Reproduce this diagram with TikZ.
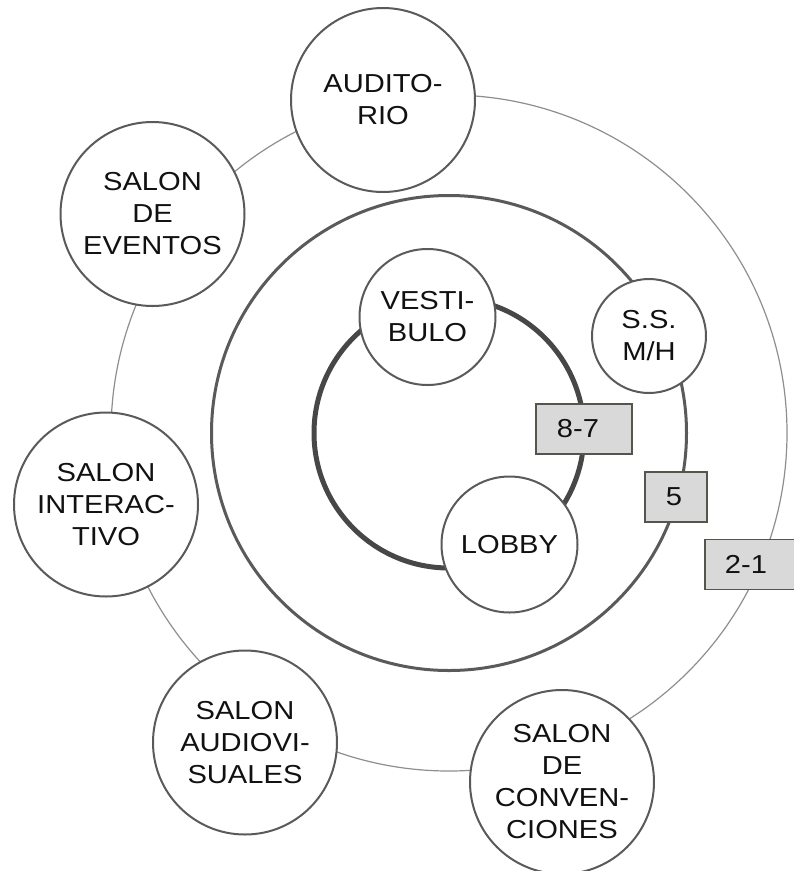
\documentclass[tikz,border=0pt]{standalone}
\usepackage{fontspec}
\setmainfont[FakeStretch=1.12]{Liberation Sans}
\usetikzlibrary{positioning}

\definecolor{ringgray}{HTML}{8E8E8E}
\definecolor{nodegray}{HTML}{5A5A5A}
\definecolor{boxedge}{HTML}{55554D}
\definecolor{boxgray}{HTML}{D9D9D9}
\definecolor{textblack}{HTML}{111111}

\tikzset{
  room/.style={circle, draw=nodegray, line width=2pt, fill=white,
    minimum size=184pt, inner sep=0pt, align=center, text=textblack,
    font=\fontsize{26}{32}\selectfont},
  smallroom/.style={room, minimum size=136pt},
  tinyroom/.style={room, minimum size=114pt},
  levelbox/.style={draw=boxedge, line width=1.6pt, fill=boxgray,
    minimum width=96pt, minimum height=50pt, inner sep=0pt, text=textblack,
    font=\fontsize{26}{32}\selectfont}
}

\begin{document}
\begin{tikzpicture}[x=1pt,y=-1pt]
  \useasboundingbox (0,0) rectangle (794,871);
  \coordinate (c) at (449,433);

  % rings
  \draw[ringgray, line width=1.2pt] (c) circle (338pt);
  \draw[nodegray, line width=3pt] (c) circle (237.5pt);
  \draw[black!72, line width=5pt] (c) circle (135pt);

  % outer ring
  \node[room] (audit)   at (383,100)   {AUDITO-\\RIO};
  \node[room] (eventos) at (152.5,214) {SALON\\DE\\EVENTOS};
  \node[room] (interac) at (106,504.5) {SALON\\INTERAC-\\TIVO};
  \node[room] (audiov)  at (245,742.5) {SALON\\AUDIOVI-\\SUALES};
  \node[room] (conven)  at (562,782)   {SALON\\DE\\CONVEN-\\CIONES};

  % middle and inner rings
  \node[tinyroom]  (ss)    at (649,336)   {S.S.\\M/H};
  \node[smallroom] (vesti) at (427.5,317) {VESTI-\\BULO};
  \node[smallroom] (lobby) at (509.5,544.5) {LOBBY};

  % levels
  \node[levelbox] (lvl87) at (584,429) {\hspace*{-12pt}8-7};
  \node[levelbox, minimum width=62pt] (lvl5) at (676,497) {\hspace*{-4pt}5};
  \node[levelbox] (lvl21) at (753,564.5) {\hspace*{-14pt}2-1};
\end{tikzpicture}
\end{document}
